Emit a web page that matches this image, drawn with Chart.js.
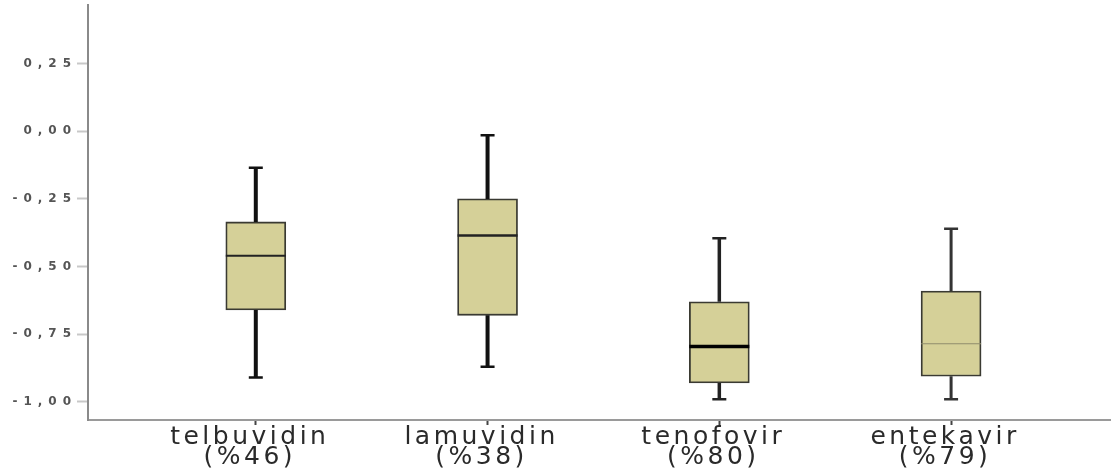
<!DOCTYPE html>
<html>
<head>
<meta charset="utf-8">
<script src="https://cdn.jsdelivr.net/npm/chart.js@4.4.1/dist/chart.umd.min.js"></script>
<style>
  html, body { margin: 0; padding: 0; background: #fff; }
  .chart-container { width: 1111px; height: 475px; }
</style>
</head>
<body>
<div class="chart-container"><canvas id="myChart"></canvas></div>
<script>
// box plot values
const drugs = ['telbuvidin', 'lamuvidin', 'tenofovir', 'entekavir'];
const shares = ['(%46)', '(%38)', '(%80)', '(%79)'];
const whiskerLow = [-0.91, -0.87, -0.99, -0.99];
const q1 = [-0.66, -0.68, -0.93, -0.905];
const median = [-0.46, -0.385, -0.795, -0.785];
const q3 = [-0.335, -0.25, -0.63, -0.59];
const whiskerHigh = [-0.135, -0.015, -0.395, -0.36];
const yTicks = [0.25, 0, -0.25, -0.5, -0.75, -1];

const fmt = v => (v < 0 ? '-' : '') + Math.abs(v).toFixed(2).replace('.', ',');

// the original text is stretched wide, so space the letters of each axis a bit
const wideText = {
  id: 'wideText',
  afterLayout(chart) {
    const spacing = { x: '3.5px', y: '6px' };
    Object.keys(spacing).forEach(id => {
      const s = chart.scales[id];
      if (!s || s._spaced) return;
      const orig = s.drawLabels;
      s.drawLabels = function (area) {
        const prev = this.ctx.letterSpacing;
        this.ctx.letterSpacing = spacing[id];
        orig.call(this, area);
        this.ctx.letterSpacing = prev;
      };
      s._spaced = true;
    });
  }
};

// whiskers + medians, drawn from the chart's own scales
const boxParts = {
  id: 'boxParts',
  afterDatasetsDraw(chart) {
    const { ctx, scales: { x, y } } = chart;
    const meta = chart.getDatasetMeta(0);
    const whiskerW = [4, 4, 3.5, 3];
    const whiskerC = ['#111', '#111', '#222', '#333'];
    const medW = [2, 2.5, 3.5, 1.2];
    const medC = ['#222', '#222', '#000', '#8f8d6c'];
    ctx.save();
    drugs.forEach((d, i) => {
      const cx = x.getPixelForValue(i);
      const half = meta.data[i].width / 2;
      ctx.strokeStyle = whiskerC[i];
      ctx.lineWidth = whiskerW[i];
      ctx.beginPath();
      ctx.moveTo(cx, y.getPixelForValue(q3[i]));
      ctx.lineTo(cx, y.getPixelForValue(whiskerHigh[i]));
      ctx.moveTo(cx, y.getPixelForValue(q1[i]));
      ctx.lineTo(cx, y.getPixelForValue(whiskerLow[i]));
      ctx.stroke();
      ctx.lineWidth = 2.5;
      ctx.beginPath();
      [whiskerHigh[i], whiskerLow[i]].forEach(v => {
        const py = y.getPixelForValue(v);
        ctx.moveTo(cx - 7, py);
        ctx.lineTo(cx + 7, py);
      });
      ctx.stroke();
      ctx.strokeStyle = medC[i];
      ctx.lineWidth = medW[i];
      ctx.beginPath();
      const my = y.getPixelForValue(median[i]);
      ctx.moveTo(cx - half, my);
      ctx.lineTo(cx + half, my);
      ctx.stroke();
    });
    ctx.restore();
  }
};

new Chart(document.getElementById('myChart'), {
  type: 'bar',
  data: {
    datasets: [{
      data: drugs.map((d, i) => ({ x: i, y: [q1[i], q3[i]] })),
      backgroundColor: '#d5d098',
      borderColor: '#3a3a32',
      borderWidth: 1.8,
      borderSkipped: false,
      barThickness: 60
    }]
  },
  options: {
    responsive: true,
    maintainAspectRatio: false,
    animation: false,
    layout: { padding: { top: 5, right: 0, left: 0, bottom: 0 } },
    plugins: { legend: { display: false }, tooltip: { enabled: false } },
    scales: {
      x: {
        type: 'linear',
        offset: false,
        min: -0.724,
        max: 3.69,
        afterBuildTicks: s => { s.ticks = drugs.map((d, i) => ({ value: i })); },
        afterFit: s => { s.height = 55; s.paddingLeft = 0; s.paddingRight = 0; },
        border: { color: '#9a9a9a', width: 2 },
        grid: { offset: false, drawOnChartArea: false, tickLength: 5, color: '#444', tickWidth: 2 },
        ticks: {
          autoSkip: false,
          maxRotation: 0,
          padding: 3,
          labelOffset: -6,
          color: '#2a2a2a',
          font: { family: 'DejaVu Sans', size: 25, lineHeight: 0.78 },
          callback: v => [drugs[v], shares[v]]
        }
      },
      y: {
        min: -1.0665,
        max: 0.466,
        afterBuildTicks: s => { s.ticks = yTicks.map(v => ({ value: v })); },
        afterFit: s => { s.width = 88; s.paddingTop = 0; s.paddingBottom = 0; },
        border: { color: '#8a8a8a', width: 2 },
        grid: { drawOnChartArea: false, tickLength: 11, color: '#c8c8c8', tickWidth: 2 },
        ticks: {
          padding: 0,
          color: '#555',
          font: { family: 'DejaVu Sans', size: 12, weight: 'bold' },
          callback: v => fmt(v)
        }
      }
    }
  },
  plugins: [wideText, boxParts]
});
</script>
</body>
</html>
